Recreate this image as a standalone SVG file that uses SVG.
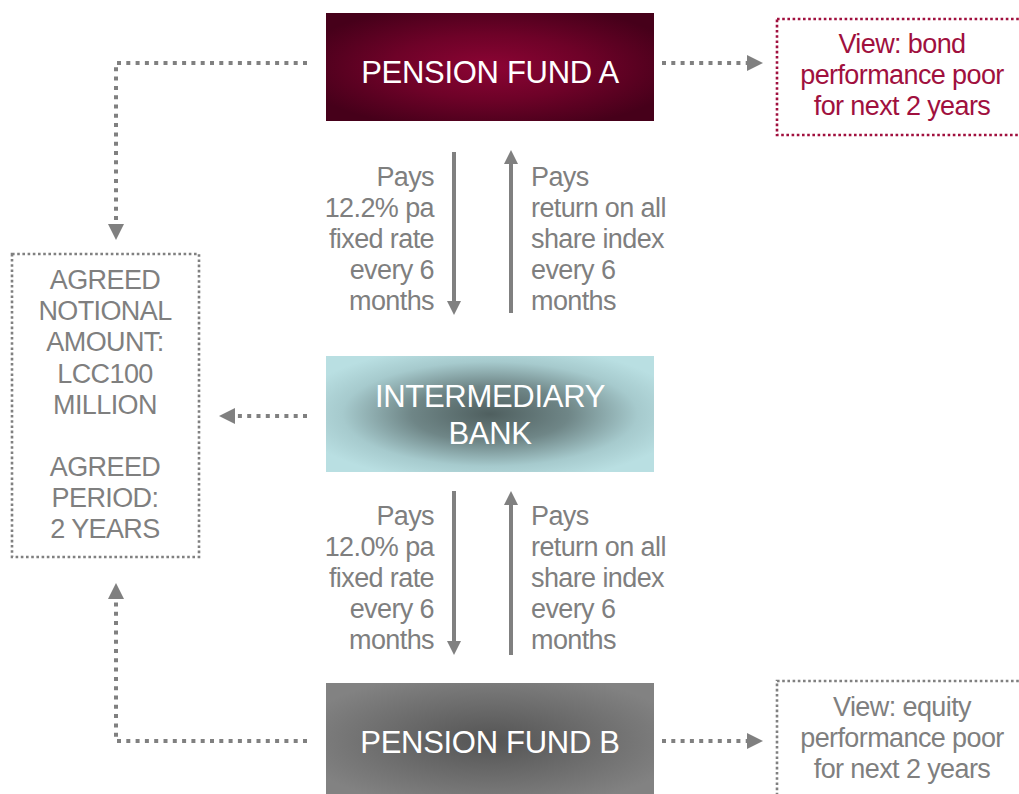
<svg xmlns="http://www.w3.org/2000/svg" width="1019" height="794" viewBox="0 0 1019 794">
<defs>
<radialGradient id="gA" cx="50%" cy="50%" r="60%">
<stop offset="0" stop-color="#8c0434"/>
<stop offset="0.5" stop-color="#6e0228"/>
<stop offset="1" stop-color="#46001a"/>
</radialGradient>
<radialGradient id="gBank" cx="50%" cy="50%" r="60%">
<stop offset="0" stop-color="#4f5f5f"/>
<stop offset="0.4" stop-color="#6f8687"/>
<stop offset="0.75" stop-color="#a6cacd"/>
<stop offset="1" stop-color="#b9dfe2"/>
</radialGradient>
<radialGradient id="gB" cx="50%" cy="50%" r="60%">
<stop offset="0" stop-color="#545454"/>
<stop offset="1" stop-color="#828282"/>
</radialGradient>
<marker id="dh" viewBox="0 0 10 10" refX="0" refY="5" markerWidth="16" markerHeight="16" markerUnits="userSpaceOnUse" orient="auto">
<path d="M0,0 L10,5 L0,10 Z" fill="#808080"/>
</marker>
<marker id="sh" viewBox="0 0 10 10" refX="0" refY="5" markerWidth="14" markerHeight="14" markerUnits="userSpaceOnUse" orient="auto">
<path d="M0,0 L10,5 L0,10 Z" fill="#808080"/>
</marker>
</defs>
<style>
.node{font-family:"Liberation Sans",Arial,sans-serif;font-size:31px;fill:#ffffff;text-anchor:middle;letter-spacing:-0.3px}
.lbl{font-family:"Liberation Sans",Arial,sans-serif;font-size:27px;fill:#7f7f7f;letter-spacing:-0.6px}
.r{text-anchor:end}
.m{text-anchor:middle}
.red{fill:#a0103e}
.dot{fill:none;stroke:#808080;stroke-width:4;stroke-dasharray:4 5.3}
.solid{fill:none;stroke:#808080;stroke-width:4}
.box{fill:none;stroke-width:2.6;stroke-dasharray:2.6 2.6}
</style>

<g id="pension-fund-a">
<rect x="326" y="13" width="328" height="108" fill="url(#gA)"/>
<text class="node" x="490" y="83">PENSION FUND A</text>
</g>

<g id="intermediary-bank">
<rect x="326" y="356" width="328" height="116" fill="url(#gBank)"/>
<text class="node" x="490" y="407">INTERMEDIARY</text>
<text class="node" x="490" y="444">BANK</text>
</g>

<g id="pension-fund-b">
<rect x="326" y="683" width="328" height="115" fill="url(#gB)"/>
<text class="node" x="490" y="753">PENSION FUND B</text>
</g>

<g id="agreed-box">
<rect x="12" y="254" width="187" height="303" class="box" stroke="#808080"/>
<text class="lbl m" x="105" y="289">AGREED</text>
<text class="lbl m" x="105" y="320">NOTIONAL</text>
<text class="lbl m" x="105" y="351">AMOUNT:</text>
<text class="lbl m" x="105" y="383">LCC100</text>
<text class="lbl m" x="105" y="414">MILLION</text>
<text class="lbl m" x="105" y="476">AGREED</text>
<text class="lbl m" x="105" y="507">PERIOD:</text>
<text class="lbl m" x="105" y="538">2 YEARS</text>
</g>

<g id="view-bond">
<rect x="777" y="19" width="260" height="116" class="box" stroke="#a0103e"/>
<text class="lbl m red" x="902" y="53">View: bond</text>
<text class="lbl m red" x="902" y="84">performance poor</text>
<text class="lbl m red" x="902" y="115">for next 2 years</text>
</g>

<g id="view-equity">
<rect x="777" y="681" width="260" height="130" class="box" stroke="#808080"/>
<text class="lbl m" x="902" y="716">View: equity</text>
<text class="lbl m" x="902" y="747">performance poor</text>
<text class="lbl m" x="902" y="778">for next 2 years</text>
</g>

<g id="labels">
<text class="lbl r" x="434" y="186">Pays</text>
<text class="lbl r" x="434" y="217">12.2% pa</text>
<text class="lbl r" x="434" y="248">fixed rate</text>
<text class="lbl r" x="434" y="279">every 6</text>
<text class="lbl r" x="434" y="310">months</text>
<text class="lbl" x="531" y="186">Pays</text>
<text class="lbl" x="531" y="217">return on all</text>
<text class="lbl" x="531" y="248">share index</text>
<text class="lbl" x="531" y="279">every 6</text>
<text class="lbl" x="531" y="310">months</text>

<text class="lbl r" x="434" y="525">Pays</text>
<text class="lbl r" x="434" y="556">12.0% pa</text>
<text class="lbl r" x="434" y="587">fixed rate</text>
<text class="lbl r" x="434" y="618">every 6</text>
<text class="lbl r" x="434" y="649">months</text>
<text class="lbl" x="531" y="525">Pays</text>
<text class="lbl" x="531" y="556">return on all</text>
<text class="lbl" x="531" y="587">share index</text>
<text class="lbl" x="531" y="618">every 6</text>
<text class="lbl" x="531" y="649">months</text>
</g>

<g id="connectors">
<path class="dot" d="M307,63 H116 V224" marker-end="url(#dh)"/>
<path class="dot" d="M307,741 H116 V599" marker-end="url(#dh)"/>
<path class="dot" d="M307,416 H235" marker-end="url(#dh)"/>
<path class="dot" d="M662,63 H747" marker-end="url(#dh)"/>
<path class="dot" d="M662,741 H747" marker-end="url(#dh)"/>
<path class="solid" d="M454,152 V301" marker-end="url(#sh)"/>
<path class="solid" d="M511,313 V164" marker-end="url(#sh)"/>
<path class="solid" d="M454,491 V641" marker-end="url(#sh)"/>
<path class="solid" d="M511,655 V505" marker-end="url(#sh)"/>
</g>
</svg>
